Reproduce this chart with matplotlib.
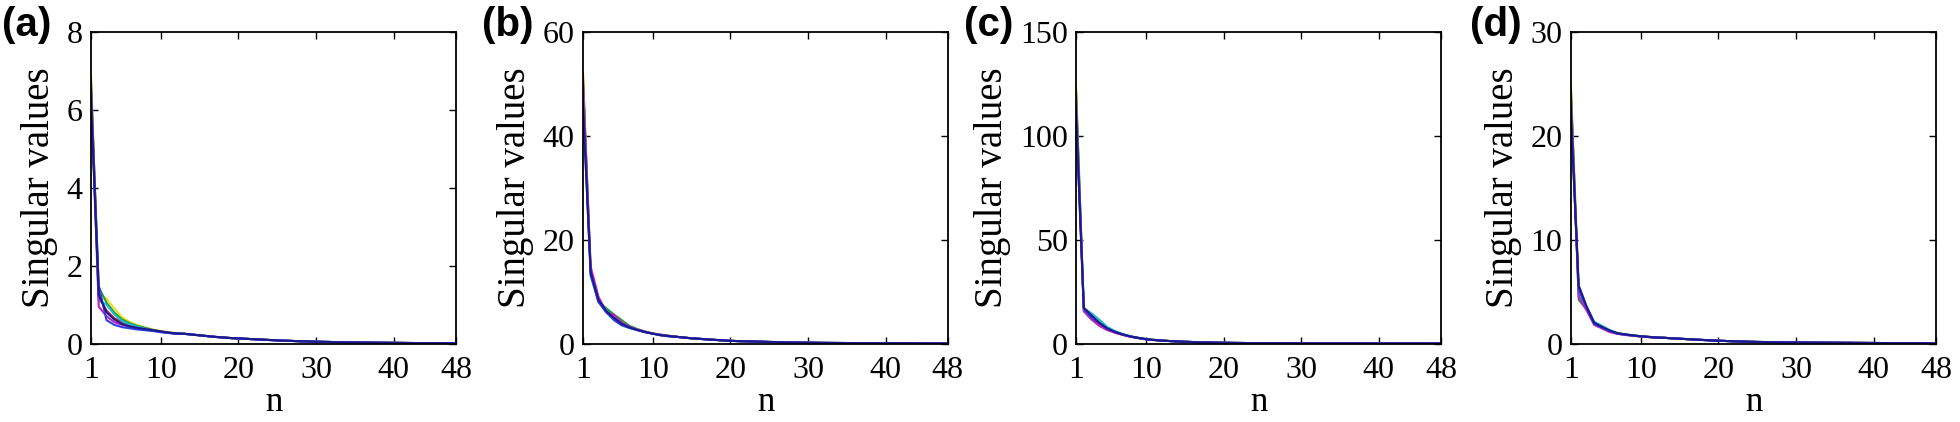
import numpy as np
import matplotlib.pyplot as plt

plt.rcParams['font.family'] = 'Liberation Serif'

# indices n = 1..48
n = np.arange(1, 49)

# panel (a): first 12 singular values of each signal, shared tail n = 13..48
a_tail = [0.25, 0.23, 0.21, 0.19, 0.17, 0.155, 0.14, 0.13, 0.12, 0.11, 0.10, 0.09,
          0.08, 0.072, 0.065, 0.058, 0.052, 0.047, 0.042, 0.038, 0.034, 0.031, 0.028, 0.025,
          0.023, 0.021, 0.019, 0.017, 0.015, 0.013, 0.011, 0.010, 0.008, 0.007, 0.006, 0.005]
a_heads = [
    [6.9, 1.30, 1.15, 0.90, 0.68, 0.55, 0.47, 0.41, 0.36, 0.32, 0.29, 0.27],
    [6.7, 1.45, 1.05, 0.80, 0.62, 0.52, 0.45, 0.40, 0.35, 0.31, 0.28, 0.26],
    [6.8, 1.20, 0.85, 0.65, 0.55, 0.48, 0.42, 0.38, 0.34, 0.31, 0.28, 0.26],
    [6.6, 1.10, 1.00, 0.75, 0.58, 0.49, 0.43, 0.38, 0.34, 0.30, 0.28, 0.26],
    [6.5, 0.95, 0.70, 0.55, 0.48, 0.43, 0.39, 0.36, 0.33, 0.30, 0.27, 0.25],
    [6.4, 1.50, 0.60, 0.48, 0.42, 0.39, 0.36, 0.34, 0.32, 0.29, 0.27, 0.25],
    [6.3, 1.25, 0.80, 0.62, 0.50, 0.44, 0.40, 0.37, 0.34, 0.31, 0.28, 0.26],
]

# panel (b)
b_tail = [1.3, 1.15, 1.0, 0.9, 0.8, 0.7, 0.6, 0.52, 0.46, 0.42, 0.38, 0.34,
          0.30, 0.27, 0.24, 0.21, 0.18, 0.16, 0.14, 0.12, 0.11, 0.10, 0.09, 0.08,
          0.07, 0.06, 0.055, 0.05, 0.045, 0.04, 0.035, 0.03, 0.025, 0.02, 0.015, 0.01]
b_heads = [
    [53, 14.5, 8.5, 6.5, 5.3, 4.2, 3.3, 2.7, 2.3, 2.0, 1.7, 1.5],
    [51, 13.5, 8.0, 6.8, 5.6, 4.5, 3.4, 2.8, 2.3, 1.9, 1.7, 1.5],
    [52, 14.0, 8.8, 6.2, 5.0, 3.9, 3.1, 2.6, 2.2, 1.9, 1.6, 1.4],
    [50, 13.0, 8.2, 6.4, 4.8, 3.6, 3.0, 2.6, 2.2, 1.9, 1.6, 1.4],
    [49, 14.8, 9.0, 6.0, 5.5, 4.0, 3.2, 2.7, 2.3, 1.9, 1.7, 1.5],
    [47, 13.2, 8.0, 6.0, 4.5, 3.5, 3.0, 2.6, 2.2, 1.9, 1.6, 1.4],
    [46, 13.8, 8.4, 6.3, 4.9, 3.8, 3.1, 2.6, 2.2, 1.9, 1.6, 1.45],
]

# panel (c)
c_tail = [1.2, 1.0, 0.85, 0.7, 0.6, 0.5, 0.42, 0.35, 0.3, 0.26, 0.22, 0.19,
          0.16, 0.14, 0.12, 0.10, 0.09, 0.08, 0.07, 0.06, 0.05, 0.045, 0.04, 0.035,
          0.03, 0.027, 0.024, 0.021, 0.018, 0.016, 0.014, 0.012, 0.010, 0.008, 0.006, 0.005]
c_heads = [
    [125, 17.5, 14.0, 11.0, 7.5, 5.8, 4.5, 3.5, 2.8, 2.2, 1.8, 1.5],
    [122, 16.5, 13.0, 9.5, 7.0, 5.5, 4.3, 3.4, 2.7, 2.1, 1.7, 1.4],
    [120, 16.0, 12.0, 9.0, 6.8, 5.3, 4.2, 3.3, 2.6, 2.1, 1.7, 1.4],
    [118, 17.0, 14.5, 11.5, 8.0, 6.0, 4.6, 3.5, 2.8, 2.2, 1.8, 1.5],
    [115, 15.5, 11.5, 8.5, 6.5, 5.2, 4.1, 3.2, 2.6, 2.0, 1.7, 1.4],
    [112, 16.8, 12.5, 9.8, 7.2, 5.6, 4.4, 3.4, 2.7, 2.1, 1.7, 1.4],
    [110, 17.2, 13.5, 10.0, 7.3, 5.6, 4.4, 3.4, 2.7, 2.1, 1.7, 1.4],
]

# panel (d)
d_tail = [0.55, 0.5, 0.46, 0.42, 0.38, 0.34, 0.3, 0.27, 0.24, 0.21, 0.19, 0.17,
          0.15, 0.14, 0.13, 0.12, 0.11, 0.10, 0.095, 0.09, 0.085, 0.08, 0.075, 0.07,
          0.065, 0.06, 0.055, 0.05, 0.045, 0.04, 0.035, 0.03, 0.025, 0.02, 0.015, 0.01]
d_heads = [
    [25, 5.5, 3.6, 2.0, 1.6, 1.25, 1.0, 0.9, 0.8, 0.7, 0.65, 0.6],
    [24.5, 4.2, 3.3, 1.9, 1.5, 1.2, 0.95, 0.85, 0.78, 0.7, 0.64, 0.58],
    [24, 5.0, 3.4, 1.8, 1.5, 1.15, 0.95, 0.85, 0.75, 0.68, 0.62, 0.57],
    [23.5, 4.8, 3.5, 2.1, 1.7, 1.3, 1.0, 0.88, 0.78, 0.7, 0.64, 0.58],
    [23, 4.5, 3.2, 1.8, 1.45, 1.1, 0.92, 0.82, 0.74, 0.67, 0.61, 0.56],
    [22.5, 5.2, 3.5, 1.9, 1.55, 1.2, 0.97, 0.86, 0.77, 0.69, 0.63, 0.57],
    [22, 5.6, 3.6, 2.0, 1.6, 1.25, 1.0, 0.88, 0.78, 0.7, 0.64, 0.58],
]

panel_labels = ['(a)', '(b)', '(c)', '(d)']
y_max = [8, 60, 150, 30]
y_ticks = [[0, 2, 4, 6, 8], [0, 20, 40, 60], [0, 50, 100, 150], [0, 10, 20, 30]]
x_ticks = [1, 10, 20, 30, 40, 48]
line_colors = ['#e8e020', '#20a040', '#d02030', '#20b8d0', '#c020c0', '#3040e0', '#1a1a90']

heads = [a_heads, b_heads, c_heads, d_heads]
tails = [a_tail, b_tail, c_tail, d_tail]

fig = plt.figure(figsize=(19.6, 4.22), dpi=100)

# axes boxes in figure fractions
lefts = [0.0464, 0.2974, 0.549, 0.8015]
label_x = [0.001, 0.246, 0.492, 0.750]

for i in range(4):
    ax = fig.add_axes([lefts[i], 0.186, 0.1862, 0.738])
    for k in range(len(heads[i])):
        ax.plot(n, heads[i][k] + tails[i], color=line_colors[k], lw=1.5)
    ax.set_xlim(1, 48)
    ax.set_ylim(0, y_max[i])
    ax.set_xticks(x_ticks)
    ax.set_yticks(y_ticks[i])
    ax.tick_params(direction='in', top=True, right=True, length=5, width=1,
                   labelsize=23, pad=6)
    ax.tick_params(axis='x', pad=9)
    for sp in ax.spines.values():
        sp.set_linewidth(1.3)
    ax.set_xlabel('n', fontsize=25, labelpad=1)
    ax.set_ylabel('Singular values', fontsize=28, labelpad=6)
    fig.text(label_x[i], 0.985, panel_labels[i], fontsize=29, fontweight='bold',
             family='Liberation Sans', ha='left', va='top')

plt.savefig('out.png')
